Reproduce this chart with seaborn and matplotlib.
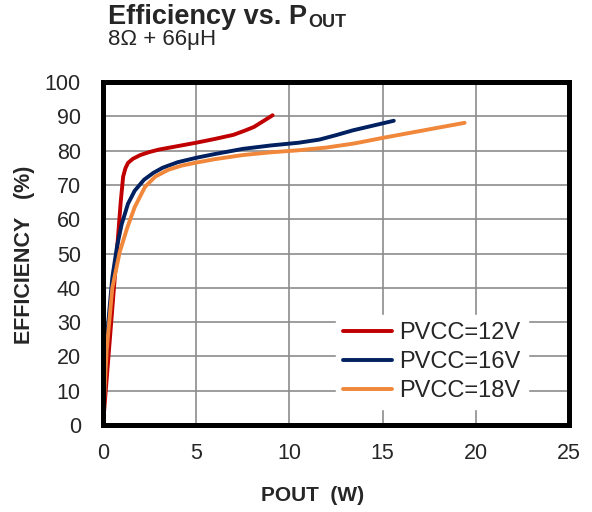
import numpy as np
import pandas as pd
import matplotlib
matplotlib.use("Agg")
import matplotlib.pyplot as plt
import seaborn as sns

# efficiency curves
pout_12v = [0, 0.25, 0.5, 0.75, 0.95, 1.08, 1.2, 1.34, 1.6, 2.0, 2.5, 3.0, 4.0, 5.0, 6.0, 7.0, 7.6, 8.1, 8.6, 9.1]
eff_12v = [0, 17, 34, 51, 65, 72.4, 74.8, 76.4, 77.6, 78.7, 79.6, 80.3, 81.3, 82.3, 83.4, 84.6, 85.8, 86.9, 88.6, 90.3]

pout_16v = [0, 0.1, 0.25, 0.5, 0.75, 1.0, 1.34, 1.7, 2.2, 2.7, 3.2, 4.0, 5.0, 6.0, 7.5, 9.0, 10.5, 11.6, 12.5, 13.4, 14.5, 15.6]
eff_16v = [0, 14, 28, 43, 52, 58.5, 64.5, 68.3, 71.5, 73.5, 75, 76.6, 77.9, 79, 80.5, 81.5, 82.3, 83.2, 84.5, 85.9, 87.3, 88.7]

pout_18v = [0, 0.1, 0.2, 0.5, 0.9, 1.3, 1.7, 2.25, 2.8, 3.5, 4.2, 5.0, 6.0, 7.5, 9.0, 10.5, 12.0, 13.5, 15.0, 16.5, 18.0, 19.4]
eff_18v = [0, 12, 22, 40, 50.5, 57.5, 63.5, 69.4, 72.4, 74.4, 75.6, 76.5, 77.5, 78.7, 79.5, 80.1, 80.9, 82.1, 83.7, 85.2, 86.7, 88.1]

series_names = ["PVCC=12V", "PVCC=16V", "PVCC=18V"]
series_colors = ["#C00000", "#002060", "#F0873A"]

x_ticks = [0, 5, 10, 15, 20, 25]
y_ticks = [0, 10, 20, 30, 40, 50, 60, 70, 80, 90, 100]

frames = []
for name, xs, ys in zip(series_names, [pout_12v, pout_16v, pout_18v], [eff_12v, eff_16v, eff_18v]):
    frames.append(pd.DataFrame({"pout": xs, "eff": ys, "supply": name}))
df = pd.concat(frames, ignore_index=True)

sns.set_style("white")
plt.rcParams['font.family'] = ['Liberation Sans', 'DejaVu Sans']

W, H = 592, 512
fig = plt.figure(figsize=(W / 100, H / 100), dpi=100)
ax = fig.add_axes([103 / W, 1 - 425 / H, 466 / W, 343 / H])

sns.lineplot(data=df, x="pout", y="eff", hue="supply", palette=series_colors,
             hue_order=series_names, sort=False, estimator=None, linewidth=2.8,
             ax=ax, legend=True)
for line in ax.lines:
    line.set_solid_capstyle("round")
    line.set_solid_joinstyle("round")

ax.set_xlim(0, 25)
ax.set_ylim(0, 100)
ax.set_xticks(x_ticks)
ax.set_yticks(y_ticks)
ax.tick_params(axis="both", labelsize=15.5, length=0)
ax.tick_params(axis="x", pad=13)
ax.tick_params(axis="y", pad=16)
ax.grid(True, color="#8c8c8c", linewidth=1.2)
ax.set_axisbelow(True)
for side in ["left", "right", "top", "bottom"]:
    ax.spines[side].set_visible(True)
    ax.spines[side].set_color("black")
    ax.spines[side].set_linewidth(3.6)

ax.set_xlabel("POUT  (W)", fontsize=15, fontweight="bold")
ax.set_ylabel("EFFICIENCY   (%)", fontsize=15.5, fontweight="bold")
ax.xaxis.set_label_coords((313 - 103) / 466, -(501 - 425) / 343)
ax.yaxis.set_label_coords(-(103 - 25) / 466, (425 - 255) / 343)
ax.xaxis.label.set_va("baseline")
ax.yaxis.label.set_va("center")

leg = ax.legend(loc="upper left", bbox_to_anchor=(0.474, 0.356), frameon=True,
                fontsize=17, handlelength=2.1, handletextpad=0.3,
                labelspacing=0.3, borderpad=0.3, fancybox=False)
leg.get_frame().set_edgecolor("white")
leg.get_frame().set_facecolor("white")
leg.get_frame().set_alpha(1)
for line in leg.get_lines():
    line.set_linewidth(2.8)

# title with a subscript drawn as a second, smaller text
title = fig.text(108 / W, 1 - 24 / H, "Efficiency vs. P", fontsize=19.5,
                 fontweight="bold", ha="left", va="baseline")
fig.canvas.draw()
bb = title.get_window_extent()
fig.text((bb.x1 + 1) / W, 1 - 27 / H, "OUT", fontsize=13, fontweight="bold",
         ha="left", va="baseline")
fig.text(108 / W, 1 - 45.5 / H, "8Ω + 66μH", fontsize=16, ha="left", va="baseline")

fig.savefig("out.png", dpi=100)
